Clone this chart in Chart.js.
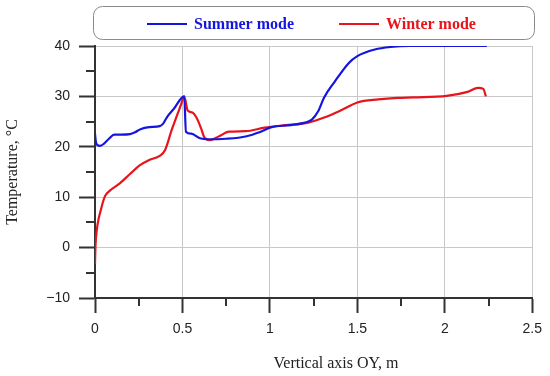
<!DOCTYPE html>
<html>
<head>
<meta charset="utf-8">
<script src="https://cdn.jsdelivr.net/npm/chart.js@4/dist/chart.umd.min.js"></script>
<style>
  body { margin: 0; background: #fff; }
  #mygraph { display: block; }
</style>
</head>
<body>
<canvas id="mygraph" width="550" height="376"></canvas>
<script>
// values
const xSummer = [0, 0.005, 0.015, 0.03, 0.05, 0.08, 0.11, 0.15, 0.2, 0.23, 0.26, 0.31, 0.37, 0.39, 0.41, 0.45, 0.51,
  0.52, 0.55, 0.6, 0.65, 0.75, 0.82, 0.9, 0.94, 1.01, 1.12, 1.2, 1.24, 1.275, 1.31, 1.37, 1.45, 1.5, 1.6, 1.69, 1.8, 2.0, 2.24]
const tSummer = [22.6, 21.0, 20.3, 20.2, 20.6, 21.6, 22.4, 22.4, 22.5, 22.9, 23.5, 23.9, 24.1, 24.6, 25.8, 27.5, 30.0,
  23.0, 22.6, 21.7, 21.5, 21.6, 21.8, 22.4, 22.9, 23.9, 24.3, 24.8, 25.4, 27.0, 29.8, 32.9, 36.6, 38.0, 39.3, 39.8, 40.0, 40.0, 40.0]

const xWinter = [0, 0.003, 0.01, 0.02, 0.03, 0.045, 0.057, 0.085, 0.14, 0.2, 0.255, 0.31, 0.37, 0.4, 0.44, 0.49, 0.51,
  0.53, 0.557, 0.58, 0.605, 0.625, 0.655, 0.71, 0.765, 0.86, 0.97, 1.09, 1.22, 1.31, 1.41, 1.5, 1.62, 1.73, 1.82, 2.01, 2.13, 2.19, 2.22, 2.235]
const tWinter = [-3.2, 0.5, 3.4, 5.6, 7.0, 9.0, 10.2, 11.3, 12.7, 14.6, 16.3, 17.4, 18.2, 19.3, 23.5, 28.2, 30.0,
  27.2, 26.8, 25.8, 23.8, 21.9, 21.3, 22.1, 23.0, 23.1, 23.8, 24.3, 24.8, 25.8, 27.3, 28.8, 29.4, 29.7, 29.8, 30.1, 30.9, 31.7, 31.5, 30.0]

const seriesNames = ['Summer mode', 'Winter mode']
const seriesColors = ['#1515e0', '#e8141c']

const xMinorTicks = [0.25, 0.75, 1.25, 1.75, 2.25]
const yMinorTicks = [-5, 5, 15, 25, 35]

const axisDark = '#333333'
const gridGrey = '#c8c8c8'

let toPoints = (xs, ys) => xs.map((x, i) => ({ x: x, y: ys[i] }))

// minor ticks, x axis title and the boxed legend
let extras = {
  id: 'extras',
  afterDraw(chart) {
    const ctx = chart.ctx
    const area = chart.chartArea
    const xs = chart.scales.x
    const ys = chart.scales.y
    ctx.save()
    ctx.strokeStyle = axisDark
    ctx.lineWidth = 2
    ctx.beginPath()
    xMinorTicks.forEach(v => {
      const px = Math.round(xs.getPixelForValue(v))
      ctx.moveTo(px, area.bottom)
      ctx.lineTo(px, area.bottom + 8)
    })
    yMinorTicks.forEach(v => {
      const py = Math.round(ys.getPixelForValue(v))
      ctx.moveTo(area.left - 9, py)
      ctx.lineTo(area.left, py)
    })
    ctx.stroke()

    // x axis title
    ctx.fillStyle = '#222'
    ctx.font = '16px "Liberation Serif"'
    ctx.textAlign = 'center'
    ctx.textBaseline = 'alphabetic'
    ctx.fillText('Vertical axis OY, m', 336, 368)

    // legend box
    ctx.strokeStyle = '#8a8a8a'
    ctx.lineWidth = 1
    ctx.beginPath()
    ctx.roundRect(93.5, 6.5, 441, 33, 9)
    ctx.stroke()

    const lineStarts = [147, 339]
    ctx.font = 'bold 16px "Liberation Serif"'
    ctx.textAlign = 'left'
    seriesNames.forEach((name, i) => {
      ctx.strokeStyle = seriesColors[i]
      ctx.lineWidth = 2
      ctx.beginPath()
      ctx.moveTo(lineStarts[i], 24)
      ctx.lineTo(lineStarts[i] + 40, 24)
      ctx.stroke()
      ctx.fillStyle = seriesColors[i]
      ctx.fillText(name, lineStarts[i] + 47, 29)
    })
    ctx.restore()
  }
}

const ctx = document.getElementById('mygraph').getContext('2d')
new Chart(ctx, {
  type: 'line',
  data: {
    datasets: [{
      label: seriesNames[0],
      data: toPoints(xSummer, tSummer),
      borderColor: seriesColors[0],
      borderWidth: 2.2,
      pointRadius: 0,
      fill: false,
      cubicInterpolationMode: 'monotone'
    }, {
      label: seriesNames[1],
      data: toPoints(xWinter, tWinter),
      borderColor: seriesColors[1],
      borderWidth: 2.2,
      pointRadius: 0,
      fill: false,
      cubicInterpolationMode: 'monotone'
    }]
  },
  options: {
    responsive: false,
    animation: false,
    layout: { padding: { top: 46, right: 14, left: 0, bottom: 0 } },
    plugins: {
      legend: { display: false },
      tooltip: { enabled: false }
    },
    scales: {
      x: {
        type: 'linear',
        min: 0,
        max: 2.5,
        afterFit: (scale) => { scale.height = 78 },
        ticks: {
          stepSize: 0.5,
          padding: 8,
          color: '#222',
          font: { family: '"Liberation Sans"', size: 14 },
          callback: (v) => String(Math.round(v * 10) / 10)
        },
        grid: { color: gridGrey, lineWidth: 1, tickColor: axisDark, tickWidth: 2, tickLength: 15 },
        border: { color: axisDark, width: 2 }
      },
      y: {
        min: -10,
        max: 40,
        afterFit: (scale) => { scale.width = 95 },
        ticks: {
          stepSize: 10,
          padding: 9,
          color: '#222',
          font: { family: '"Liberation Sans"', size: 14 },
          callback: (v) => String(v).replace('-', '\u2212')
        },
        grid: { color: gridGrey, lineWidth: 1, tickColor: axisDark, tickWidth: 2, tickLength: 16 },
        border: { color: axisDark, width: 2 },
        title: {
          display: true,
          text: 'Temperature, \u00B0C',
          color: '#222',
          font: { family: '"Liberation Serif"', size: 16 },
          padding: { top: 3, bottom: 0 }
        }
      }
    }
  },
  plugins: [extras]
})
</script>
</body>
</html>
